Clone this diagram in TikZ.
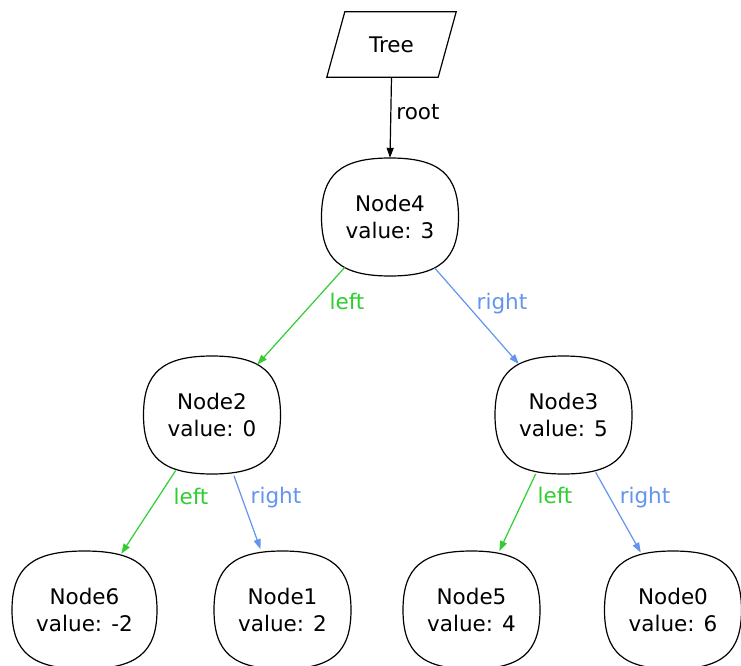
\documentclass[tikz,border=0pt]{standalone}
\usepackage{fontspec}
\setmainfont{DejaVu Sans}
\usetikzlibrary{arrows.meta,shapes.geometric}
\definecolor{lgreen}{HTML}{32CD32}
\definecolor{cblue}{HTML}{6495ED}
\tikzset{
  txt/.style={font=\fontsize{21.5}{27}\selectfont},
  tn/.style={ellipse, inner sep=0pt, minimum width=1.08*#1pt, minimum height=127pt,
    align=center, txt,
    append after command={\pgfextra{\draw[line width=1.2pt, shift={(\tikzlastnode.center)}]
      (0,-59) .. controls (0.36*#1,-59) and (0.5*#1,-42.5) .. (0.5*#1,0)
      .. controls (0.5*#1,42.5) and (0.36*#1,59) .. (0,59)
      .. controls (-0.36*#1,59) and (-0.5*#1,42.5) .. (-0.5*#1,0)
      .. controls (-0.5*#1,-42.5) and (-0.36*#1,-59) .. (0,-59) -- cycle;}}},
  tn/.default=137,
  arr/.style={line width=1.2pt, -{Triangle[length=10pt,width=7pt]}},
  lbl/.style={txt, anchor=base, inner sep=0pt},
}
\begin{document}
\begin{tikzpicture}[x=1pt,y=-1pt]
\useasboundingbox[fill=white] (0,0) rectangle (741,666);
% Tree
\node[txt, minimum width=111pt, minimum height=65pt, inner sep=0pt] (tree) at (391.5,44.5) {Tree};
\draw[line width=1.2pt] ([xshift=9pt]tree.north west) -- ([xshift=9pt]tree.north east)
  -- ([xshift=-9pt]tree.south east) -- ([xshift=-9pt]tree.south west) -- cycle;
% nodes
\node[tn] (n4) at (390,217) {Node4\\value: 3};
\node[tn] (n2) at (212,415) {Node2\\value: 0};
\node[tn] (n3) at (563.5,415) {Node3\\value: 5};
\node[tn=145] (n6) at (84.5,610) {Node6\\value: -2};
\node[tn] (n1) at (282.5,610) {Node1\\value: 2};
\node[tn] (n5) at (471.5,610) {Node5\\value: 4};
\node[tn] (n0) at (673,610) {Node0\\value: 6};
\coordinate (n4top) at ([yshift=-4.5pt]n4.north);
% edges
\draw[arr] (tree.south) -- (n4top);
\draw[arr, lgreen] (n4) -- (n2);
\draw[arr, cblue] (n4) -- (n3);
\draw[arr, lgreen] (n2) -- (n6);
\draw[arr, cblue] (n2) -- (n1);
\draw[arr, lgreen] (n3) -- (n5);
\draw[arr, cblue] (n3) -- (n0);
% labels
\node[lbl] (lroot) at (418,120) {root};
\node[lbl, text=lgreen] (l42) at (347,309) {left};
\node[lbl, text=cblue] (l43) at (502,309) {right};
\node[lbl, text=lgreen] (l26) at (191,504) {left};
\node[lbl, text=cblue] (l21) at (276,503) {right};
\node[lbl, text=lgreen] (l35) at (555,503) {left};
\node[lbl, text=cblue] (l30) at (645,503) {right};
\end{tikzpicture}
\end{document}
